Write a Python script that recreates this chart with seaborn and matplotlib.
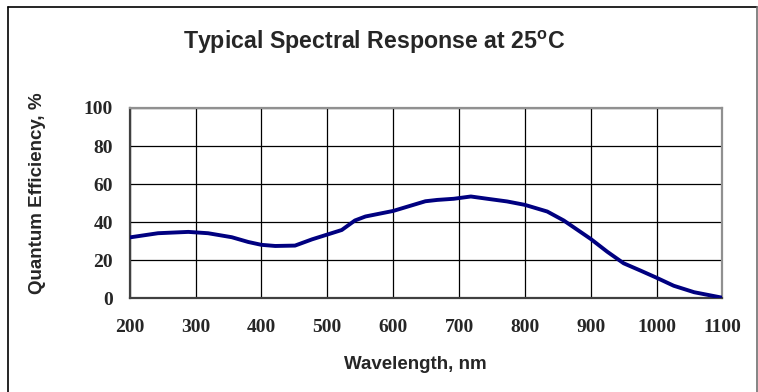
import matplotlib
matplotlib.use("Agg")
import matplotlib.pyplot as plt
import pandas as pd
import seaborn as sns
from matplotlib.lines import Line2D

# values
wavelength = [200, 243, 289, 319, 355, 380, 400, 421, 451, 477, 500, 522,
              542, 558, 600, 649, 667, 692, 718, 743, 773, 800, 834, 859,
              900, 925, 950, 976, 1000, 1026, 1057, 1100]
qe = [32.0, 34.2, 34.9, 34.2, 32.1, 29.6, 28.1, 27.5, 27.7, 31.0, 33.5, 35.9,
      40.9, 43.0, 45.9, 51.0, 51.7, 52.3, 53.5, 52.3, 50.9, 49.1, 45.6, 40.9,
      31.2, 24.5, 18.4, 14.5, 10.8, 6.6, 3.2, 0.3]
x_ticks = [200, 300, 400, 500, 600, 700, 800, 900, 1000, 1100]
y_ticks = [0, 20, 40, 60, 80, 100]

df = pd.DataFrame({"wavelength": wavelength, "qe": qe})

sns.set_style("white")
fig = plt.figure(figsize=(7.58, 3.92), dpi=100)
ax = fig.add_axes([0.1711, 0.2390, 0.7820, 0.4855])

sns.lineplot(data=df, x="wavelength", y="qe", ax=ax, color="#000080",
             linewidth=2.8, zorder=3, solid_joinstyle="round",
             solid_capstyle="round")

ax.set_xlim(200, 1100)
ax.set_ylim(0, 100)
ax.set_xticks(x_ticks)
ax.set_yticks(y_ticks)
ax.grid(True, color="black", linewidth=0.9)
ax.tick_params(axis="x", length=0, pad=15)
ax.tick_params(axis="y", length=0, pad=12)
for lab in ax.get_xticklabels() + ax.get_yticklabels():
    lab.set_fontfamily("Liberation Serif")
    lab.set_fontweight("bold")
    lab.set_fontsize(14)

for side in ["left", "bottom"]:
    ax.spines[side].set_color("#404040")
    ax.spines[side].set_linewidth(1.6)
for side in ["top", "right"]:
    ax.spines[side].set_color("#909090")
    ax.spines[side].set_linewidth(1.6)

ax.set_xlabel("")
ax.set_ylabel("")
fig.text(0.548, 0.071, "Wavelength, nm", ha="center", va="center",
         fontsize=13.5, fontweight="bold", family="Liberation Sans")
fig.text(0.050, 0.508, "Quantum Efficiency, %", ha="center", va="center",
         rotation=90, fontsize=13.5, fontweight="bold", family="Liberation Sans")
fig.text(0.494, 0.893, "Typical Spectral Response at 25$^\\mathregular{o}$C",
         ha="center", va="center", fontsize=16.7, fontweight="bold",
         family="Liberation Sans")

# outer frame around the chart
fig.add_artist(Line2D([8 / 758, 8 / 758], [0, 1 - 7 / 392], color="black",
                      linewidth=1.2, transform=fig.transFigure))
fig.add_artist(Line2D([8 / 758, 757 / 758], [1 - 7 / 392, 1 - 7 / 392],
                      color="black", linewidth=1.2, transform=fig.transFigure))
fig.add_artist(Line2D([757 / 758, 757 / 758], [0, 1 - 7 / 392], color="#707070",
                      linewidth=1.2, transform=fig.transFigure))

fig.savefig("out.png", dpi=100)
